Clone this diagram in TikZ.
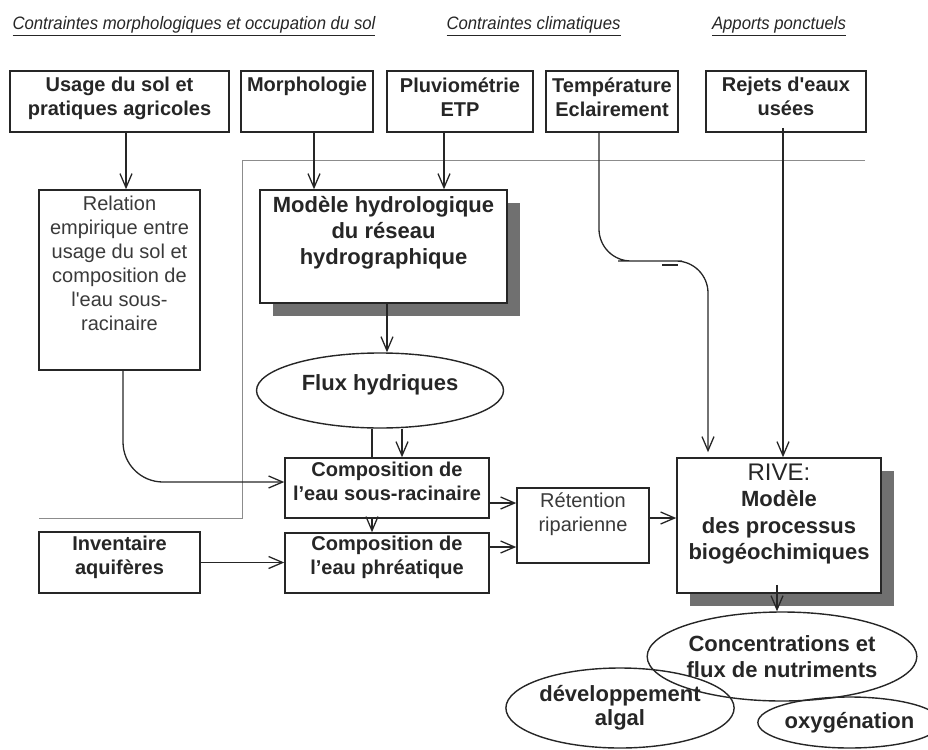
\documentclass[tikz,border=0pt]{standalone}
\usepackage{fontspec}
\setmainfont{Liberation Sans}
\usetikzlibrary{arrows.meta,shapes.geometric,shadows}

\definecolor{rand}{HTML}{262626}
\definecolor{schattengrau}{HTML}{707070}
\definecolor{rahmen}{HTML}{8C8C8C}
\definecolor{grautext}{HTML}{3A3A3A}

% Text oben im Kasten: Breite, Hoehe, Abstand oben, Text
\newcommand{\oben}[4]{\parbox[c][#2][t]{#1}{\centering\vspace*{#3}#4}}
% schmale Ueberschrift
\newcommand{\schmal}[1]{\scalebox{0.93}[1]{\underline{#1}}}

\tikzset{
	kasten/.style={draw=rand,line width=1.5pt,fill=white,inner sep=0pt,text=rand,
		font=\bfseries\fontsize{20}{24}\selectfont},
	duenn/.style={kasten,font=\fontsize{20}{24}\selectfont,text=grautext},
	blase/.style={draw=rand,line width=1.4pt,ellipse,inner sep=0pt,align=center,text=rand,
		font=\bfseries\fontsize{22}{26.5}\selectfont},
	schatten/.style={drop shadow={shadow xshift=13pt,shadow yshift=-13pt,fill=schattengrau,opacity=1}},
	pfeil/.style={draw=rand,line width=1.3pt,-{Straight Barb[length=14pt,width=12pt]}},
	linie/.style={draw=rand,line width=1.3pt},
	titel/.style={inner sep=0pt,text=rand,font=\itshape\fontsize{18}{20}\selectfont}
}

\begin{document}
\begin{tikzpicture}[x=1pt,y=-1pt]
\useasboundingbox (0,0) rectangle (928,749);

%Ueberschriften
\node[titel] (tmorph) at (194,26) {\schmal{Contraintes morphologiques et occupation du sol}};
\node[titel] (tklima) at (533.5,26) {\schmal{Contraintes climatiques}};
\node[titel] (tapport) at (779,26) {\schmal{Apports ponctuels}};

%Rahmen
\draw[rahmen,line width=1pt] (865,160) -- (242,160) -- (242,518) -- (39,518);

%obere Reihe
\node[kasten] (usage) at (119.5,101.5) {\oben{219pt}{61pt}{6.4pt}{Usage du sol et\\pratiques agricoles}};
\node[kasten] (morpho) at (307,101.5) {\oben{132pt}{61pt}{6.4pt}{Morphologie}};
\node[kasten] (pluvio) at (460,101.5) {\oben{146pt}{61pt}{6.4pt}{Pluviométrie\\ETP}};
\node[kasten] (temp) at (612,101.5) {\oben{132pt}{61pt}{6.4pt}{Température\\Eclairement}};
\node[kasten] (rejets) at (786,101.5) {\oben{160pt}{61pt}{6.4pt}{Rejets d\textquotesingle eaux\\usées}};

%Mitte
\node[duenn] (relation) at (119.5,280) {\oben{161pt}{180pt}{6.5pt}{Relation\\empirique entre\\usage du sol et\\composition de\\l\textquotesingle eau sous-\\racinaire}};
\node[kasten,schatten,font=\bfseries\fontsize{22}{26}\selectfont] (modele) at (383.5,246.5) {\oben{247pt}{113pt}{6pt}{Modèle hydrologique\\du réseau\\hydrographique}};
\node[blase,minimum width=247pt,minimum height=75pt,text depth=16.6pt] (flux) at (380,390.5) {Flux hydriques};

\node[kasten] (comp1) at (387,488) {\oben{204pt}{60pt}{3.8pt}{Composition de\\l’eau sous-racinaire}};
\node[kasten] (comp2) at (387,563) {\oben{204pt}{60pt}{3.4pt}{Composition de\\l’eau phréatique}};
\node[kasten] (invent) at (119.5,562.5) {\oben{161pt}{61pt}{4.4pt}{Inventaire\\aquifères}};
\node[duenn] (reten) at (583,525.5) {\oben{132pt}{75pt}{4.4pt}{Rétention\\riparienne}};
\node[kasten,schatten,font=\bfseries\fontsize{22}{26.5}\selectfont] (rive) at (779,525.5) {\oben{204pt}{135pt}{5.5pt}{{\mdseries\fontsize{24}{26.5}\selectfont RIVE:}\\Modèle\\des processus\\biogéochimiques}};

%Ergebnisse
\node[blase,minimum width=264pt,minimum height=89pt] (konz) at (782,656.5) {Concentrations et\\flux de nutriments};
\node[blase,minimum width=214pt,minimum height=80pt,font=\bfseries\fontsize{22}{24}\selectfont] (algal) at (620,708) {\raisebox{-4pt}{développement}\\\raisebox{-4pt}{algal}};
\node[blase,minimum width=155pt,minimum height=51pt] (oxy) at (849.5,722.5) {oxygénation};

%Pfeile
\draw[pfeil] ([xshift=6.5pt]usage.south) -- ([xshift=6.5pt]usage.south |- relation.north);
\draw[pfeil] ([xshift=7pt]morpho.south) -- ([xshift=7pt]morpho.south |- modele.north);
\draw[pfeil] ([xshift=-16pt]pluvio.south) -- ([xshift=-16pt]pluvio.south |- modele.north);
\coordinate (knick) at (650,261);
\draw[pfeil,rounded corners=32pt] ([xshift=-13pt]temp.south) |- (knick) -| ([xshift=-71pt,yshift=5pt]rive.north);
\draw[linie,line width=1.5pt] ([xshift=12pt,yshift=-4pt]knick) -- ++(16,0);
\draw[pfeil] ([xshift=-3pt,yshift=5pt]rejets.south) -- ([xshift=-3pt]rejets.south |- rive.north);

\draw[pfeil] ([xshift=3.5pt]modele.south) -- ([xshift=3.5pt]modele.south |- flux.north);
\draw[linie] ([xshift=-8pt]flux.south) -- ([xshift=-8pt]flux.south |- comp1.north);
\draw[pfeil] ([xshift=22pt]flux.south) -- ([xshift=22pt]flux.south |- comp1.north);
\draw[pfeil,rounded corners=40pt] ([xshift=3.5pt]relation.south) |- ([yshift=6pt]comp1.west);
\draw[pfeil] ([xshift=-15pt]comp1.south) -- ([xshift=-15pt]comp2.north);
\draw[pfeil] (invent.east) -- (invent.east -| comp2.west);
\draw[pfeil] ([yshift=-15pt]comp1.east) -- ([yshift=-15pt]comp1.east -| reten.west);
\draw[pfeil] ([yshift=16pt]comp2.east) -- ([yshift=16pt]comp2.east -| reten.west);
\draw[pfeil] ([yshift=7.5pt]reten.east) -- ([yshift=7.5pt]reten.east -| rive.west);
\draw[pfeil] ([xshift=-2pt,yshift=9pt]rive.south) -- ([xshift=-2pt]rive.south |- konz.north);
\end{tikzpicture}
\end{document}
